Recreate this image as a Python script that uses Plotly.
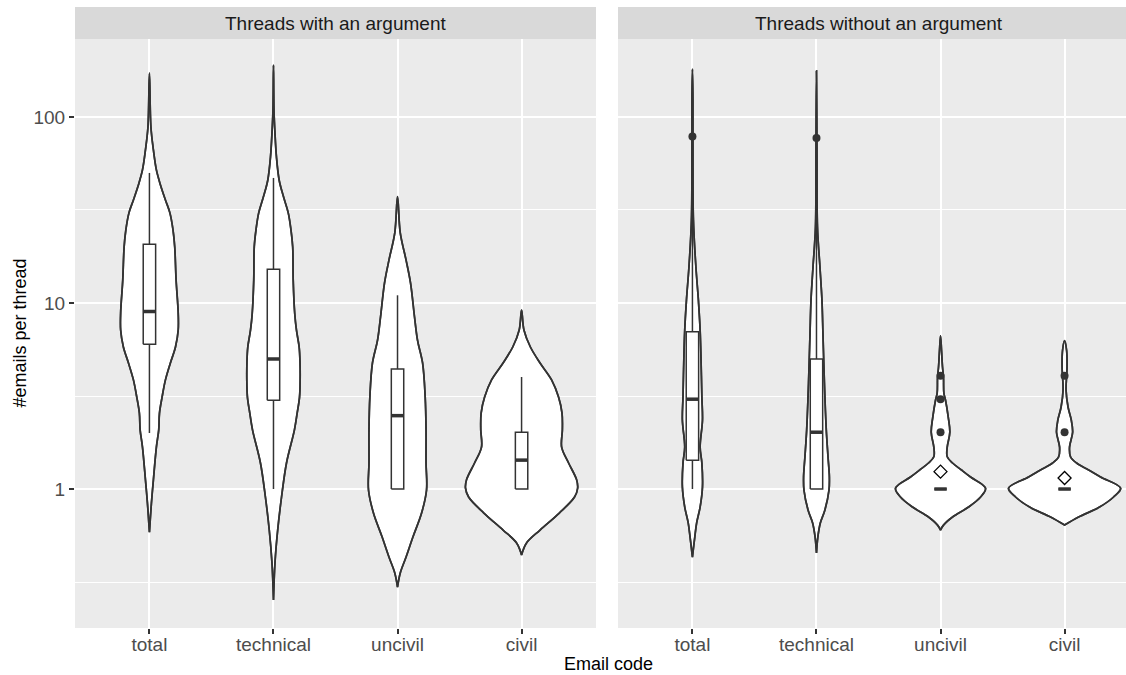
import plotly.graph_objects as go

# ---------------- data ----------------
CATEGORIES = ["total", "technical", "uncivil", "civil"]
PANELS = ["Threads with an argument", "Threads without an argument"]

# violin outlines: y levels (#emails) and half-width (fraction of a category slot)
# --- Threads with an argument ---
A_TOTAL_Y = [172, 88, 66.5, 51.9, 43.1, 35.8, 30.5, 24.7, 20.0, 13.3, 8.84, 7.16, 5.80, 4.76, 3.86, 3.12, 2.56, 2.08, 1.68, 1.12, 0.84, 0.587]
A_TOTAL_W = [0, 0.012, 0.032, 0.056, 0.089, 0.129, 0.165, 0.19, 0.204, 0.215, 0.232, 0.232, 0.21, 0.169, 0.129, 0.102, 0.081, 0.075, 0.056, 0.032, 0.016, 0]
A_TECH_Y = [190, 109, 82, 61, 45.7, 37.2, 30.5, 24.7, 20.0, 13.3, 8.84, 7.16, 5.80, 4.76, 3.86, 3.12, 2.56, 2.08, 1.38, 0.906, 0.602, 0.400, 0.253]
A_TECH_W = [0, 0.004, 0.012, 0.024, 0.046, 0.081, 0.119, 0.141, 0.155, 0.159, 0.171, 0.185, 0.207, 0.214, 0.215, 0.21, 0.191, 0.169, 0.105, 0.065, 0.034, 0.012, 0]
A_UNCIVIL_Y = [37.3, 23.8, 17.0, 12.8, 8.41, 6.32, 4.76, 3.12, 2.08, 1.38, 0.988, 0.743, 0.552, 0.431, 0.354, 0.297]
A_UNCIVIL_W = [0, 0.022, 0.069, 0.105, 0.137, 0.161, 0.202, 0.223, 0.23, 0.23, 0.234, 0.194, 0.124, 0.069, 0.022, 0]
A_CIVIL_Y = [9.17, 7.16, 5.80, 4.76, 3.86, 3.12, 2.56, 2.08, 1.68, 1.38, 1.12, 1.01, 0.906, 0.743, 0.602, 0.513, 0.442]
A_CIVIL_W = [0, 0.019, 0.071, 0.149, 0.242, 0.298, 0.326, 0.329, 0.323, 0.379, 0.444, 0.452, 0.427, 0.304, 0.149, 0.04, 0]
# --- Threads without an argument ---
B_TOTAL_Y = [181, 123, 66.5, 27.9, 15.6, 10.4, 7.16, 4.76, 3.12, 2.35, 1.68, 1.38, 1.025, 0.80, 0.657, 0.552, 0.431]
B_TOTAL_W = [0, 0.004, 0.004, 0.008, 0.028, 0.048, 0.062, 0.07, 0.076, 0.081, 0.062, 0.076, 0.081, 0.062, 0.034, 0.019, 0]
B_TECH_Y = [177, 66.5, 25.6, 15.6, 10.4, 6.90, 4.76, 3.12, 2.08, 1.49, 1.16, 0.988, 0.771, 0.657, 0.552, 0.453]
B_TECH_W = [0, 0.004, 0.008, 0.028, 0.044, 0.052, 0.059, 0.068, 0.079, 0.093, 0.104, 0.101, 0.068, 0.031, 0.011, 0]
B_UNCIVIL_Y = [6.65, 5.59, 4.53, 4.0, 3.28, 3.01, 2.44, 2.02, 1.68, 1.49, 1.38, 1.265, 1.16, 1.01, 0.906, 0.80, 0.707, 0.64, 0.602]
B_UNCIVIL_W = [0, 0.008, 0.016, 0.024, 0.027, 0.04, 0.062, 0.075, 0.054, 0.054, 0.097, 0.169, 0.242, 0.363, 0.323, 0.226, 0.097, 0.024, 0]
B_CIVIL_Y = [6.27, 5.59, 4.53, 4.0, 3.41, 2.76, 2.35, 2.02, 1.68, 1.49, 1.38, 1.265, 1.16, 1.01, 0.906, 0.80, 0.707, 0.64]
B_CIVIL_W = [0, 0.016, 0.02, 0.016, 0.012, 0.028, 0.054, 0.065, 0.04, 0.048, 0.097, 0.194, 0.29, 0.452, 0.395, 0.282, 0.113, 0]

# box statistics per panel, in CATEGORIES order
A_Q1 = [6, 3, 1, 1]
A_MED = [9, 5, 2.48, 1.43]
A_Q3 = [20.7, 15.2, 4.42, 2.02]
A_LO = [2, 1, 1, 1]
A_HI = [50, 47, 11, 4]
B_Q1 = [1.43, 1, 1, 1]
B_MED = [3.04, 2.02, 1, 1]
B_Q3 = [7.0, 5.0, 1, 1]
B_LO = [1, 1, 1, 1]
B_HI = [70, 50, 1, 1]

# outlier points and means (right panel)
B_OUTLIERS = [[78.4], [77], [4.06, 3.04, 2.02], [4.06, 2.02]]
B_MEANS = [None, None, 1.24, 1.146]

Y_BREAKS = [1, 10, 100]
Y_MINOR = [10 ** -0.5, 10 ** 0.5, 10 ** 1.5]

# ---------------- style ----------------
BOX_W = 0.1
INK = "#333333"
FONT = "Liberation Sans"
LW = 1.7

fig = go.Figure()

panels = [
    dict(xa="x", ya="y",
         violins=[(A_TOTAL_Y, A_TOTAL_W), (A_TECH_Y, A_TECH_W), (A_UNCIVIL_Y, A_UNCIVIL_W), (A_CIVIL_Y, A_CIVIL_W)],
         q1=A_Q1, med=A_MED, q3=A_Q3, lo=A_LO, hi=A_HI, out=[[], [], [], []], means=[None] * 4),
    dict(xa="x2", ya="y2",
         violins=[(B_TOTAL_Y, B_TOTAL_W), (B_TECH_Y, B_TECH_W), (B_UNCIVIL_Y, B_UNCIVIL_W), (B_CIVIL_Y, B_CIVIL_W)],
         q1=B_Q1, med=B_MED, q3=B_Q3, lo=B_LO, hi=B_HI, out=B_OUTLIERS, means=B_MEANS),
]


def violin_xy(c, ys, ws):
    xs = [c + w for w in ws] + [c - w for w in reversed(ws)]
    yy = list(ys) + list(reversed(ys))
    return xs, yy


for p in panels:
    kw = dict(xaxis=p["xa"], yaxis=p["ya"], hoverinfo="skip")
    for i, (vy, vw) in enumerate(p["violins"]):
        c = i + 1
        xs, yy = violin_xy(c, vy, vw)
        fig.add_trace(go.Scatter(x=xs, y=yy, mode="lines", fill="toself", fillcolor="white",
                                 line=dict(color=INK, width=LW, shape="spline"), **kw))
    for i in range(4):
        c = i + 1
        h = BOX_W / 2
        fig.add_trace(go.Scatter(x=[c, c, None, c, c],
                                 y=[p["q3"][i], p["hi"][i], None, p["lo"][i], p["q1"][i]],
                                 mode="lines", line=dict(color=INK, width=1.5), **kw))
        fig.add_trace(go.Scatter(x=[c - h, c + h, c + h, c - h, c - h],
                                 y=[p["q1"][i], p["q1"][i], p["q3"][i], p["q3"][i], p["q1"][i]],
                                 mode="lines", fill="toself", fillcolor="white",
                                 line=dict(color=INK, width=1.5), **kw))
    for i, (vy, vw) in enumerate(p["violins"]):
        c = i + 1
        xs, yy = violin_xy(c, vy, vw)
        fig.add_trace(go.Scatter(x=xs, y=yy, mode="lines",
                                 line=dict(color=INK, width=LW, shape="spline"), **kw))
    for i in range(4):
        c = i + 1
        fig.add_trace(go.Scatter(x=[c - BOX_W / 2, c + BOX_W / 2], y=[p["med"][i], p["med"][i]],
                                 mode="lines", line=dict(color=INK, width=3.5), **kw))
        if p["out"][i]:
            fig.add_trace(go.Scatter(x=[c] * len(p["out"][i]), y=p["out"][i], mode="markers",
                                     marker=dict(color=INK, size=8), **kw))
        if p["means"][i] is not None:
            fig.add_trace(go.Scatter(x=[c], y=[p["means"][i]], mode="markers",
                                     marker=dict(symbol="diamond", color="white", size=10,
                                                 line=dict(color="black", width=1.3)), **kw))

# ---------------- layout ----------------
L, R, T, B = 75, 0, 7, 47
W, H = 1126, 675
pw = W - L - R
ph = H - T - B
panel_w = 521
gap = 22
x1_dom = [0, panel_w / pw]
x2_dom = [(panel_w + gap) / pw, 1]
y_top = (ph - 32) / ph
unit = panel_w / 4.2
x2_max = 0.4 + (pw - panel_w - gap) / unit

xcommon = dict(tickmode="array", tickvals=[1, 2, 3, 4], ticktext=CATEGORIES,
               showgrid=True, gridcolor="white", gridwidth=1.8, zeroline=False, showline=False,
               ticks="outside", ticklen=5, tickwidth=1.5, tickcolor=INK, ticklabelstandoff=-6,
               tickfont=dict(family=FONT, size=19, color="#4D4D4D"))
ycommon = dict(type="log", range=[-0.747, 2.419], domain=[0, y_top],
               tickmode="array", tickvals=Y_BREAKS, ticktext=[str(v) for v in Y_BREAKS],
               showgrid=True, gridcolor="white", gridwidth=1.8, zeroline=False, showline=False,
               minor=dict(tickmode="array", tickvals=Y_MINOR, showgrid=True, gridcolor="white",
                          gridwidth=0.9, ticks=""),
               tickfont=dict(family=FONT, size=19, color="#4D4D4D"))

fig.update_layout(
    width=W, height=H, margin=dict(l=L, r=R, t=T, b=B),
    paper_bgcolor="white", plot_bgcolor="#EBEBEB", showlegend=False,
    font=dict(family=FONT),
    xaxis=dict(domain=x1_dom, range=[0.4, 4.6], anchor="y", **xcommon),
    xaxis2=dict(domain=x2_dom, range=[0.4, x2_max], anchor="y2", **xcommon),
    yaxis=dict(anchor="x", ticks="outside", ticklen=5, tickwidth=1.5, tickcolor=INK, **ycommon),
    yaxis2=dict(anchor="x2", matches="y", showticklabels=False, ticks="", **ycommon),
)

shapes = []
annotations = []
for k, (dom, title) in enumerate(zip([x1_dom, x2_dom], PANELS)):
    shapes.append(dict(type="rect", xref="paper", yref="paper", x0=dom[0], x1=dom[1],
                       y0=y_top, y1=1, fillcolor="#D9D9D9", line=dict(width=0), layer="below"))
    xc = (2 * dom[0] + panel_w / pw) / 2
    annotations.append(dict(text=title, xref="paper", yref="paper", x=xc, y=(y_top + 1) / 2,
                            xanchor="center", yanchor="middle", showarrow=False,
                            font=dict(family=FONT, size=19, color="#1A1A1A")))
annotations.append(dict(text="Email code", xref="paper", yref="paper", x=(608 - L) / pw, y=(H - B - 664) / ph,
                        xanchor="center", yanchor="middle", showarrow=False,
                        font=dict(family=FONT, size=18, color="black")))
annotations.append(dict(text="#emails per thread", xref="paper", yref="paper", x=(19 - L) / pw,
                        y=y_top / 2, textangle=-90, xanchor="center", yanchor="middle", showarrow=False,
                        font=dict(family=FONT, size=18, color="black")))
fig.update_layout(shapes=shapes, annotations=annotations)

fig.write_html("out.html", config={"displayModeBar": False},
               post_script="document.body.style.margin='0';document.body.style.padding='0';")
